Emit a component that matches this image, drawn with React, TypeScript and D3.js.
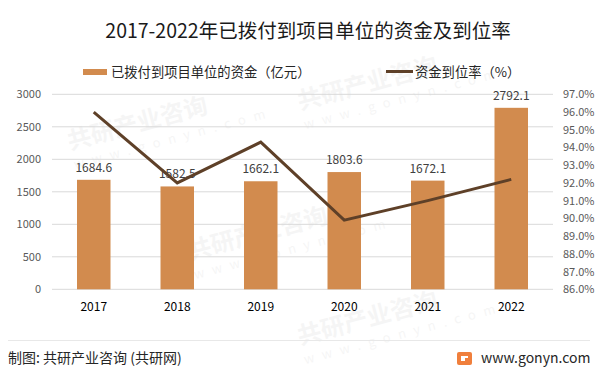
import React from "react";
import * as d3 from "d3";

const years = ["2017", "2018", "2019", "2020", "2021", "2022"];
const funds = [1684.6, 1582.5, 1662.1, 1803.6, 1672.1, 2792.1];
const rates = [96.0, 92.0, 94.3, 89.9, 91.0, 92.2];
const leftTicks = [0, 500, 1000, 1500, 2000, 2500, 3000];
const rightTicks = [86, 87, 88, 89, 90, 91, 92, 93, 94, 95, 96, 97];

const W = 599;
const H = 373;
const FONT = "'Noto Sans CJK SC', 'Noto Sans', sans-serif";

export default function App() {
  const band = d3.scaleBand<string>().domain(years).range([52, 553]);
  const yL = d3.scaleLinear().domain([0, 3000]).range([289.3, 94.3]);
  const yR = d3.scaleLinear().domain([86, 97]).range([289.3, 94.3]);
  const line = d3
    .line<number>()
    .x((_, i) => (band(years[i]) as number) + band.bandwidth() / 2)
    .y((d) => yR(d));

  const bw = 33.5;

  const watermarks = [
    [70, 150], [300, 110], [190, 260], [300, 345],
  ];

  return (
    <svg width={W} height={H} style={{ position: "absolute", left: 0, top: 0, background: "#fff" }} fontFamily={FONT}>
      <rect width={W} height={H} fill="#fff" />
      {watermarks.map(([wx, wy], i) => (
        <g key={i} transform={`translate(${wx},${wy}) rotate(-15)`} opacity={0.035}>
          <text fontSize={24} fontWeight={700} fill="#000">共研产业咨询</text>
          <text y={20} fontSize={13} letterSpacing={8} fill="#000">www.gonyn.com</text>
        </g>
      ))}
      <text x={308} y={38} textAnchor="middle" fontSize={19.5} fill="#1a1a1a">
        2017-2022年已拨付到项目单位的资金及到位率
      </text>
      {/* legend */}
      <rect x={83} y={69} width={24} height={6} fill="#D28B4E" />
      <text x={111} y={76.5} fontSize={13.3} fill="#262626">已拨付到项目单位的资金（亿元）</text>
      <line x1={386} x2={413} y1={71.5} y2={71.5} stroke="#5E4028" strokeWidth={3} />
      <text x={415} y={76.5} fontSize={13.3} fill="#262626">资金到位率（%）</text>
      {/* grid */}
      {leftTicks.map((t) => (
        <line key={t} x1={52} x2={553} y1={yL(t)} y2={yL(t)} stroke="#d9d9d9" strokeWidth={1} />
      ))}
      {leftTicks.map((t) => (
        <text key={"l" + t} x={41} y={yL(t) + 4} textAnchor="end" fontSize={11} fill="#595959">
          {t}
        </text>
      ))}
      {rightTicks.map((t) => (
        <text key={"r" + t} x={563} y={yR(t) + 4} fontSize={11} fill="#595959">
          {t.toFixed(1) + "%"}
        </text>
      ))}
      {/* bars */}
      {funds.map((v, i) => {
        const cx = (band(years[i]) as number) + band.bandwidth() / 2;
        return (
          <g key={i}>
            <rect x={cx - bw / 2} y={yL(v)} width={bw} height={yL(0) - yL(v)} fill="#D28B4E" />
            <text x={cx} y={yL(v) - 8} textAnchor="middle" fontSize={12} fill="#404040">
              {v.toFixed(1)}
            </text>
          </g>
        );
      })}
      <path d={line(rates) as string} fill="none" stroke="#5E4028" strokeWidth={3} strokeLinejoin="miter" />
      {years.map((y) => (
        <text key={y} x={(band(y) as number) + band.bandwidth() / 2} y={311} textAnchor="middle" fontSize={12} fill="#000">
          {y}
        </text>
      ))}
      {/* footer */}
      <line x1={8} x2={590} y1={340.5} y2={340.5} stroke="#e8e8e8" strokeWidth={1} />
      <text x={8} y={363} fontSize={14} fill="#262626">制图: 共研产业咨询 (共研网)</text>
      <g transform="translate(457,352)">
        <rect width={15} height={13} rx={2} fill="#F07F3C" />
        <rect x={4} y={4} width={7} height={5} fill="#fff" />
        <rect x={8} y={6} width={3} height={3} fill="#F07F3C" />
      </g>
      <text x={481} y={363} fontSize={14} fill="#262626">www.gonyn.com</text>
    </svg>
  );
}
